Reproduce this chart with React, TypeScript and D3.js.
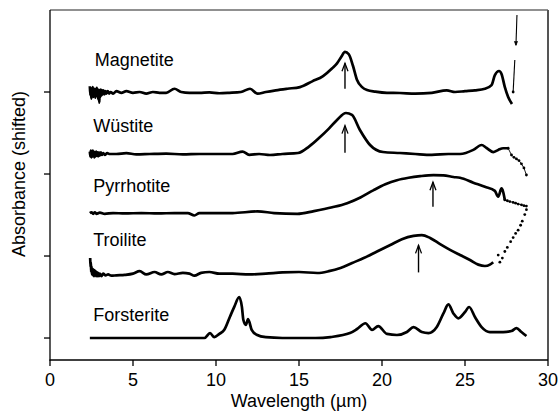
import React from "react";
import * as d3 from "d3";

const W = 560;
const H = 412;

// wavelength ticks (µm) and unlabeled absorbance ticks
const xTicks = [0, 5, 10, 15, 20, 25, 30];
const yTicks = [0, 1, 2, 3];

const names = ["Magnetite", "Wüstite", "Pyrrhotite", "Troilite", "Forsterite"];
const offsets = [3.0, 2.244, 1.524, 0.805, 0];
const labelX = [2.7, 2.6, 2.6, 2.6, 2.6];
const labelY = [0.32, 0.27, 0.26, 0.32, 0.21];

type Pt = [number, number];

const magnetite: Pt[] = [
  [2.40, 0.07], [2.43, -0.04], [2.46, 0.05], [2.49, -0.08], [2.52, 0.04], [2.55, -0.03],
  [2.58, 0.06], [2.61, -0.06], [2.64, 0.03], [2.67, -0.05], [2.70, 0.04], [2.73, -0.07],
  [2.76, 0.02], [2.79, -0.04], [2.82, 0.05], [2.85, -0.05], [2.88, 0.02], [2.91, -0.09],
  [2.94, 0.03], [2.97, -0.13], [3.00, 0.02], [3.03, -0.06], [3.06, 0.03], [3.10, -0.04],
  [3.14, 0.02], [3.18, -0.03], [3.22, 0.02], [3.28, -0.03], [3.34, 0.01], [3.40, -0.02],
  [3.48, 0.01], [3.56, -0.02], [3.65, 0.0], [3.8, -0.02], [4.0, 0.01], [4.3, -0.01],
  [4.6, 0.01], [5.0, -0.01], [5.4, 0.0], [5.8, -0.02], [6.2, 0.0], [6.6, -0.01],
  [7.0, -0.01], [7.5, 0.04], [7.9, 0.0], [8.4, -0.01], [9.0, -0.01], [9.6, -0.005],
  [10.2, -0.015], [10.8, -0.01], [11.5, 0.0], [12.05, 0.04], [12.5, -0.02], [13.0, 0.0],
  [13.6, 0.02], [14.3, 0.04], [15.06, 0.06], [15.8, 0.13], [16.45, 0.195], [17.0, 0.29],
  [17.29, 0.35], [17.55, 0.43], [17.77, 0.49], [18.0, 0.46], [18.25, 0.32], [18.49, 0.15],
  [18.8, 0.06], [19.1, 0.024], [19.6, 0.005], [20.3, -0.01], [21.08, -0.012], [22.0, -0.02],
  [23.0, -0.01], [23.9, 0.02], [24.4, 0.0], [25.0, 0.01], [25.6, 0.02], [26.2, 0.04],
  [26.6, 0.085], [26.8, 0.207], [27.05, 0.256], [27.2, 0.22], [27.4, 0.06], [27.6, -0.06],
  [27.83, -0.146],
];
// off-scale jump at the end of the magnetite spectrum
const magnetiteJump: Pt[] = [[27.9, 0.0], [28.0, 0.39]];
const magnetiteArrow: Pt[] = [[28.13, 0.94], [28.07, 0.57]];

const wustite: Pt[] = [
  [2.40, 0.03], [2.43, -0.03], [2.46, 0.04], [2.49, -0.04], [2.52, 0.02], [2.55, -0.03],
  [2.58, 0.04], [2.61, -0.02], [2.64, 0.03], [2.67, -0.04], [2.70, 0.02], [2.74, -0.03],
  [2.78, 0.03], [2.82, -0.02], [2.86, 0.02], [2.90, -0.03], [2.95, 0.02], [3.00, -0.02],
  [3.06, 0.02], [3.12, -0.01], [3.2, 0.01], [3.3, -0.01], [3.45, 0.01], [3.6, 0.0],
  [4.0, 0.0], [4.6, 0.01], [5.2, -0.005], [6.0, 0.0], [7.0, 0.005], [8.0, -0.005],
  [9.0, 0.0], [10.0, 0.0], [11.0, 0.0], [11.6, 0.03], [12.0, -0.01], [12.6, 0.0],
  [13.25, -0.012], [14.0, 0.0], [14.94, 0.012], [15.6, 0.09], [16.27, 0.207], [16.8, 0.31],
  [17.29, 0.415], [17.83, 0.5], [18.19, 0.476], [18.67, 0.293], [19.28, 0.11], [20.06, 0.024],
  [21.08, 0.012], [22.0, 0.0], [23.0, -0.01], [24.0, 0.0], [24.7, 0.0], [25.5, 0.05],
  [26.0, 0.11], [26.3, 0.073], [26.7, 0.024], [27.0, 0.05], [27.3, 0.07], [27.6, 0.07],
];
const wustiteTail: Pt[] = [
  [27.6, 0.07], [27.8, -0.012], [27.95, -0.04], [28.1, -0.06], [28.25, -0.08], [28.4, -0.12],
  [28.55, -0.17], [28.7, -0.256],
];

const pyrrhotite: Pt[] = [
  [2.4, 0.0], [2.5, 0.01], [2.6, -0.01], [2.7, 0.01], [2.8, -0.01], [3.0, 0.005],
  [3.3, -0.01], [3.8, 0.0], [4.5, -0.005], [5.5, 0.0], [6.5, -0.005], [7.5, 0.0],
  [8.3, 0.0], [8.7, -0.03], [9.0, 0.0], [10.0, 0.0], [11.0, 0.0], [12.5, 0.02],
  [13.5, 0.0], [14.9, -0.01], [15.9, 0.024], [17.0, 0.07], [17.9, 0.12], [18.7, 0.19],
  [19.5, 0.28], [20.2, 0.35], [20.9, 0.40], [21.6, 0.43], [22.3, 0.45], [23.1, 0.463],
  [23.7, 0.46], [24.3, 0.44], [24.7, 0.43], [25.5, 0.37], [26.2, 0.32], [26.8, 0.27],
  [27.0, 0.2], [27.2, 0.30], [27.4, 0.16],
];
const pyrrhotiteTail: Pt[] = [
  [27.4, 0.16], [27.55, 0.15], [27.7, 0.14], [27.9, 0.13], [28.05, 0.12], [28.2, 0.11],
  [28.4, 0.1], [28.55, 0.09], [28.7, 0.085],
];

const troilite: Pt[] = [
  [2.42, 0.17], [2.44, 0.06], [2.46, 0.12], [2.48, 0.0], [2.50, 0.07], [2.53, -0.03],
  [2.56, 0.04], [2.59, -0.04], [2.62, 0.03], [2.65, -0.05], [2.68, 0.02], [2.71, -0.04],
  [2.74, 0.01], [2.78, -0.05], [2.82, 0.0], [2.86, -0.05], [2.9, -0.01], [2.95, -0.05],
  [3.0, -0.02], [3.1, -0.05], [3.2, -0.02], [3.35, -0.04], [3.5, -0.03], [3.7, -0.045],
  [4.0, -0.04], [4.5, -0.035], [5.0, -0.02], [5.4, 0.01], [5.8, -0.03], [6.3, 0.0],
  [6.7, -0.03], [7.1, 0.0], [7.5, -0.025], [8.0, -0.01], [8.4, -0.02], [8.7, -0.045],
  [9.1, -0.01], [9.6, 0.0], [10.2, -0.02], [11.0, -0.02], [12.0, -0.03], [13.0, -0.02],
  [14.0, -0.005], [15.0, 0.0], [16.1, -0.012], [16.8, 0.01], [17.5, 0.05], [18.2, 0.11],
  [18.9, 0.17], [19.7, 0.25], [20.5, 0.33], [21.2, 0.40], [21.9, 0.44], [22.4, 0.45],
  [22.9, 0.415], [23.5, 0.34], [24.1, 0.27], [24.7, 0.207], [25.3, 0.146], [25.8, 0.09],
  [26.2, 0.073], [26.5, 0.09], [26.7, 0.12],
];
const troiliteTail: Pt[] = [
  [27.0, 0.207], [27.1, 0.12], [27.25, 0.17], [27.4, 0.25], [27.55, 0.3], [27.75, 0.37],
  [27.9, 0.42], [28.05, 0.47], [28.2, 0.51], [28.35, 0.57], [28.45, 0.62], [28.6, 0.7],
  [28.7, 0.76],
];

const forsterite: Pt[] = [
  [2.4, 0.0], [4.0, 0.0], [6.0, 0.0], [8.0, 0.0], [9.3, 0.0], [9.64, 0.06],
  [9.9, 0.01], [10.2, 0.05], [10.5, 0.1], [10.84, 0.26], [11.1, 0.38], [11.4, 0.5],
  [11.56, 0.38], [11.65, 0.22], [11.8, 0.16], [11.93, 0.23], [12.15, 0.1], [12.45, 0.04],
  [13.0, 0.01], [14.0, 0.0], [15.0, 0.0], [16.0, 0.0], [16.9, 0.012], [18.07, 0.06],
  [18.5, 0.11], [19.0, 0.18], [19.4, 0.1], [19.77, 0.146], [20.3, 0.05], [20.9, 0.037],
  [21.5, 0.073], [21.9, 0.134], [22.4, 0.073], [22.8, 0.06], [23.3, 0.134], [23.7, 0.3],
  [24.0, 0.41], [24.3, 0.3], [24.6, 0.24], [25.0, 0.317], [25.25, 0.378], [25.6, 0.256],
  [26.0, 0.134], [26.5, 0.073], [27.3, 0.073], [27.8, 0.085], [28.1, 0.12], [28.4, 0.073],
  [28.7, 0.024],
];

const spectra = [magnetite, wustite, pyrrhotite, troilite, forsterite];
const tails: (Pt[] | null)[] = [null, wustiteTail, pyrrhotiteTail, troiliteTail, null];
const tailLine = [false, true, true, false, false];

// band-position arrows: wavelength, shifted absorbance from -> to
const arrowX = [17.77, 17.77, 23.07, 22.2];
const arrowFrom = [3.04, 2.26, 1.60, 0.80];
const arrowTo = [3.35, 2.59, 1.90, 1.13];

const font = "'Liberation Sans', Arial, Helvetica, sans-serif";

export default function App() {
  const x = d3.scaleLinear().domain([0, 30]).range([50, 548]);
  const y = d3.scaleLinear().domain([-0.268, 4]).range([360, 10]);

  const line = (off: number) =>
    d3
      .line<Pt>()
      .x(d => x(d[0]))
      .y(d => y(d[1] + off))
      .curve(d3.curveMonotoneX);

  const plain = (off: number) =>
    d3
      .line<Pt>()
      .x(d => x(d[0]))
      .y(d => y(d[1] + off));

  const arrowHead = (px: number, py: number, dir: number, w = 3, h = 8) =>
    `M${px - w},${py + dir * h}L${px},${py}L${px + w},${py + dir * h}`;

  const mOff = offsets[0];

  return (
    <svg
      width={W}
      height={H}
      style={{ position: "absolute", left: 0, top: 0, background: "#fff" }}
      fontFamily={font}
    >
      {/* frame */}
      <line x1={50} x2={548} y1={10} y2={10} stroke="#222" strokeWidth={1.2} />
      <line x1={548} x2={548} y1={10} y2={360} stroke="#555" strokeWidth={2} />
      <line x1={50} x2={50} y1={10} y2={360.5} stroke="#000" strokeWidth={1.3} />
      <line x1={49.5} x2={548} y1={360} y2={360} stroke="#000" strokeWidth={1.3} />

      {xTicks.map(t => (
        <g key={"x" + t}>
          <line x1={x(t)} x2={x(t)} y1={360} y2={366} stroke="#000" strokeWidth={1.3} />
          <text x={x(t)} y={386} fontSize={18} textAnchor="middle">
            {t}
          </text>
        </g>
      ))}
      {yTicks.map(t => (
        <line key={"y" + t} x1={44} x2={50} y1={y(t)} y2={y(t)} stroke="#000" strokeWidth={1.3} />
      ))}

      <text x={299} y={407} fontSize={18} textAnchor="middle">
        Wavelength (µm)
      </text>
      <text
        transform={`translate(25,174) rotate(-90)`}
        fontSize={18}
        textAnchor="middle"
      >
        Absorbance (shifted)
      </text>

      {spectra.map((s, i) => (
        <g key={names[i]}>
          <path
            d={line(offsets[i])(s) || ""}
            fill="none"
            stroke="#000"
            strokeWidth={2.7}
            strokeLinejoin="round"
          />
          {tails[i] && tailLine[i] && (
            <path
              d={plain(offsets[i])(tails[i] as Pt[]) || ""}
              fill="none"
              stroke="#000"
              strokeWidth={0.9}
            />
          )}
          {tails[i] &&
            (tails[i] as Pt[]).map((p, j) => (
              <circle key={j} cx={x(p[0])} cy={y(p[1] + offsets[i])} r={1.4} fill="#000" />
            ))}
          <text x={x(labelX[i])} y={y(offsets[i] + labelY[i])} fontSize={18}>
            {names[i]}
          </text>
        </g>
      ))}

      {/* magnetite off-scale segment */}
      <path d={plain(mOff)(magnetiteJump) || ""} fill="none" stroke="#000" strokeWidth={1.1} />
      <circle cx={x(magnetiteJump[0][0])} cy={y(magnetiteJump[0][1] + mOff)} r={1.4} fill="#000" />
      <path d={plain(mOff)(magnetiteArrow) || ""} fill="none" stroke="#000" strokeWidth={1.1} />
      <path
        d={arrowHead(x(magnetiteArrow[1][0]), y(magnetiteArrow[1][1] + mOff), -1, 1.6, 4)}
        fill="#000"
        stroke="#000"
        strokeWidth={0.8}
      />

      {arrowX.map((a, i) => (
        <g key={"a" + i}>
          <line x1={x(a)} x2={x(a)} y1={y(arrowFrom[i])} y2={y(arrowTo[i])} stroke="#000" strokeWidth={1.4} />
          <path
            d={arrowHead(x(a), y(arrowTo[i]), 1)}
            fill="none"
            stroke="#000"
            strokeWidth={1.3}
          />
        </g>
      ))}
    </svg>
  );
}
